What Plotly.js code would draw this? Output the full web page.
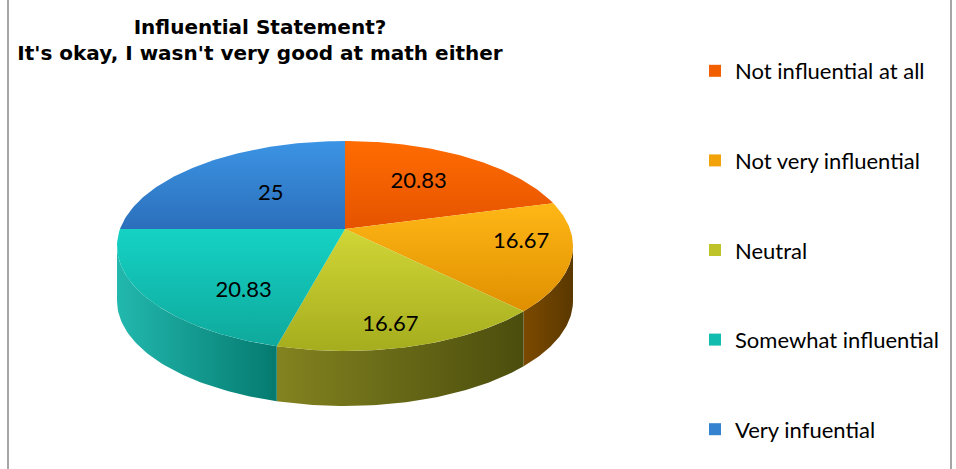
<!DOCTYPE html>
<html>
<head>
<meta charset="utf-8">
<script src="https://cdn.plot.ly/plotly-3.0.1.min.js"></script>
<style>html,body{margin:0;padding:0;background:#fff}#chart{width:956px;height:469px}</style>
</head>
<body>
<div id="chart"></div>
<script>
// ---- data ----
const categories = ['Not influential at all', 'Not very influential', 'Neutral', 'Somewhat influential', 'Very infuential'];
const values = [20.83, 16.67, 16.67, 20.83, 25];
const valueLabels = ['20.83', '16.67', '16.67', '20.83', '25'];

// ---- styles ----
const topLight = ['#ff6c02', '#ffb716', '#d0d636', '#15d2c4', '#3c94e4'];
const topDark  = ['#e55300', '#df8f00', '#a6ad1e', '#0ea99c', '#2b6fbb'];
const wallLight = ['#7c4a00', '#7c4a00', '#838320', '#22b8ae', '#2c74c0'];
const wallDark  = ['#5a3800', '#5a3800', '#4b4d0d', '#057a6f', '#1f5a99'];
const legendColor = ['#f25f00', '#f2a30a', '#bec32a', '#12bdb0', '#3482d0'];
// label placement style: radial fraction and vertical drop (px)
const labelRadius = [0.53, 0.8, 0.77, 0.56, 0.46];
const labelDrop = [-2, -8, 18, 27, 0];

// ---- geometry (pixel space of the plot) ----
const CX = 345, CY = 246, RX = 228, RY = 105, APY = 229, DEPTH = 55;

function thetaForPhi(phi) {
  const dx = RX * Math.sin(phi), dy = -RY * Math.cos(phi);
  const oy = APY - CY;
  const a = (dx / RX) ** 2 + (dy / RY) ** 2;
  const b = 2 * oy * dy / (RY * RY);
  const c = (oy / RY) ** 2 - 1;
  const t = (-b + Math.sqrt(b * b - 4 * a * c)) / (2 * a);
  const x = CX + t * dx, y = APY + t * dy;
  return Math.atan2((y - CY) / RY, (x - CX) / RX);
}

const total = values.reduce((s, v) => s + v, 0);
const thetas = [];
let cum = 0;
for (let i = 0; i <= values.length; i++) {
  const phi = 2 * Math.PI * cum / total;
  let th = thetaForPhi(phi);
  if (i === 0) th = -Math.PI / 2;
  while (i > 0 && th < thetas[i - 1] - 1e-9) th += 2 * Math.PI;
  thetas.push(th);
  if (i < values.length) cum += values[i];
}

function arc(a, b, n, dy) {
  const xs = [], ys = [];
  for (let k = 0; k <= n; k++) {
    const th = a + (b - a) * k / n;
    xs.push(CX + RX * Math.cos(th));
    ys.push(CY + RY * Math.sin(th) + (dy || 0));
  }
  return [xs, ys];
}

const traces = [];
// walls
for (let i = 0; i < values.length; i++) {
  const lo = Math.max(thetas[i], 0), hi = Math.min(thetas[i + 1], Math.PI);
  if (lo >= hi) continue;
  const [tx, ty] = arc(lo, hi, 60, 0);
  const [bx, by] = arc(hi, lo, 60, DEPTH);
  const xs = tx.concat(bx), ys = ty.concat(by);
  traces.push({
    type: 'scatter', mode: 'lines', x: xs, y: ys, fill: 'toself',
    line: { width: 0, color: wallDark[i] }, showlegend: false, hoverinfo: 'skip',
    fillgradient: { type: 'horizontal', start: Math.min(...xs), stop: Math.max(...xs),
      colorscale: [[0, wallLight[i]], [1, wallDark[i]]] }
  });
}
// tops
for (let i = 0; i < values.length; i++) {
  const [ax, ay] = arc(thetas[i], thetas[i + 1], 80, 0);
  const xs = [CX].concat(ax, [CX]), ys = [APY].concat(ay, [APY]);
  traces.push({
    type: 'scatter', mode: 'lines', x: xs, y: ys, fill: 'toself',
    line: { width: 0, color: topDark[i] }, showlegend: false, hoverinfo: 'skip',
    fillgradient: { type: 'vertical', start: Math.min(...ys), stop: Math.max(...ys),
      colorscale: [[0, topLight[i]], [1, topDark[i]]] }
  });
}
// value labels
const lx = [], ly = [];
cum = 0;
for (let i = 0; i < values.length; i++) {
  const phi = 2 * Math.PI * (cum + values[i] / 2) / total;
  cum += values[i];
  lx.push(CX + labelRadius[i] * RX * Math.sin(phi));
  ly.push(APY - labelRadius[i] * RY * Math.cos(phi) + labelDrop[i]);
}
traces.push({
  type: 'scatter', mode: 'text', x: lx, y: ly, text: valueLabels,
  textfont: { family: 'Lato, sans-serif', size: 22, color: '#000' },
  showlegend: false, hoverinfo: 'skip'
});
// legend entries
for (let i = 0; i < categories.length; i++) {
  traces.push({
    type: 'scatter', mode: 'markers', x: [null], y: [null], name: categories[i],
    legendgroup: 'g' + i,
    marker: { symbol: 'square', size: 14, color: legendColor[i] }
  });
}

const layout = {
  width: 956, height: 469,
  margin: { l: 0, r: 0, t: 0, b: 0 },
  paper_bgcolor: '#fff', plot_bgcolor: '#fff',
  xaxis: { range: [0, 956], visible: false, fixedrange: true },
  yaxis: { range: [469, 0], visible: false, fixedrange: true },
  title: {
    text: 'Influential Statement?<br>It\'s okay, I wasn\'t very good at math either',
    xref: 'container', yref: 'container',
    x: 260 / 956, xanchor: 'center', y: 1 - 34 / 469, yanchor: 'middle',
    font: { family: 'DejaVu Sans, sans-serif', size: 20, color: '#000', weight: 'bold' }
  },
  showlegend: true,
  legend: {
    x: 695 / 956, xanchor: 'left', y: 1 - 50 / 469, yanchor: 'top',
    font: { family: 'Lato, sans-serif', size: 22, color: '#000' },
    tracegroupgap: 58, itemsizing: 'constant', bgcolor: 'rgba(0,0,0,0)'
  },
  shapes: [
    { type: 'line', xref: 'paper', yref: 'paper', x0: 8 / 956, x1: 8 / 956, y0: 0, y1: 1, line: { color: '#a6a6a6', width: 2 } },
    { type: 'line', xref: 'paper', yref: 'paper', x0: 951 / 956, x1: 951 / 956, y0: 0, y1: 1, line: { color: '#a6a6a6', width: 2 } }
  ]
};

Plotly.newPlot('chart', traces, layout, { displayModeBar: false, staticPlot: true });
</script>
</body>
</html>
